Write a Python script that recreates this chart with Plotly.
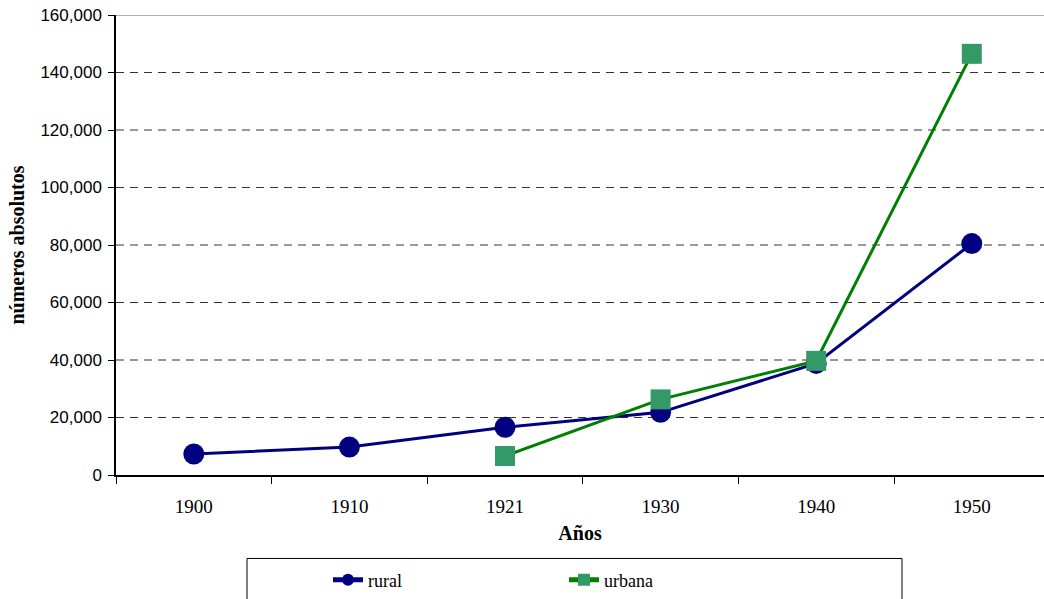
import plotly.graph_objects as go

years = ["1900", "1910", "1921", "1930", "1940", "1950"]
rural = [7300, 9700, 16600, 21800, 38800, 80500]
urbana_years = ["1921", "1930", "1940", "1950"]
urbana = [6600, 26300, 39700, 146500]
y_ticks = [0, 20000, 40000, 60000, 80000, 100000, 120000, 140000, 160000]

W, H = 1044, 599
L, R, T, B = 116, 0, 15, 599 - 478
PW, PH = W - L - R, H - T - B


def px_x(x):
    return (x - L) / PW


def px_y(y):
    return (H - B - y) / PH


fig = go.Figure()
fig.add_trace(go.Scatter(
    x=years, y=rural, name="rural", mode="lines+markers",
    line=dict(color="#000080", width=3),
    marker=dict(symbol="circle", size=21, color="#000080"),
))
fig.add_trace(go.Scatter(
    x=urbana_years, y=urbana, name="urbana", mode="lines+markers",
    line=dict(color="#008000", width=3),
    marker=dict(symbol="square", size=20, color="#339966"),
))

# grid lines (dashed) and top solid line
for v in y_ticks[1:-1]:
    fig.add_shape(type="line", xref="paper", yref="y", x0=0, x1=1, y0=v, y1=v,
                  line=dict(color="#333333", width=1, dash="8px,6px"), layer="below")
fig.add_shape(type="line", xref="paper", yref="y", x0=0, x1=1, y0=160000, y1=160000,
              line=dict(color="#999999", width=1.5), layer="below")

# legend box
fig.add_shape(type="rect", xref="paper", yref="paper",
              x0=px_x(247), x1=px_x(902), y0=px_y(640), y1=px_y(562),
              line=dict(color="black", width=1), fillcolor="rgba(0,0,0,0)")

fig.update_layout(
    width=W, height=H,
    margin=dict(l=L, r=R, t=T, b=B),
    plot_bgcolor="white", paper_bgcolor="white",
    showlegend=True,
    legend=dict(
        orientation="h", xanchor="left", yanchor="top",
        x=px_x(328), y=px_y(565),
        entrywidth=191, entrywidthmode="pixels",
        font=dict(family="Liberation Serif", size=18, color="black"),
        bgcolor="rgba(0,0,0,0)", borderwidth=0,
        itemsizing="constant",
    ),
    xaxis=dict(
        type="category", range=[-0.5, 5.464],
        showline=True, linecolor="black", linewidth=1.5,
        ticks="outside", ticklen=7, tickcolor="black", tickson="boundaries",
        ticklabelstandoff=13,
        showgrid=False, zeroline=False,
        tickfont=dict(family="Liberation Serif", size=19, color="black"),
        title=dict(text="<b>Años</b>", standoff=10,
                   font=dict(family="Liberation Serif", size=20, color="black")),
    ),
    yaxis=dict(
        range=[0, 160000], tickvals=y_ticks, tickformat=",",
        showline=True, linecolor="black", linewidth=1.5,
        ticks="outside", ticklen=6, tickcolor="black",
        ticklabelstandoff=3,
        showgrid=False, zeroline=False,
        tickfont=dict(family="Liberation Sans", size=17, color="black"),
        title=dict(text="<b>números absolutos</b>", standoff=10,
                   font=dict(family="Liberation Serif", size=20, color="black")),
    ),
)

fig.write_html(
    "out.html",
    config={"displayModeBar": False},
    post_script="document.body.style.margin='0';document.body.style.overflow='hidden';",
)
